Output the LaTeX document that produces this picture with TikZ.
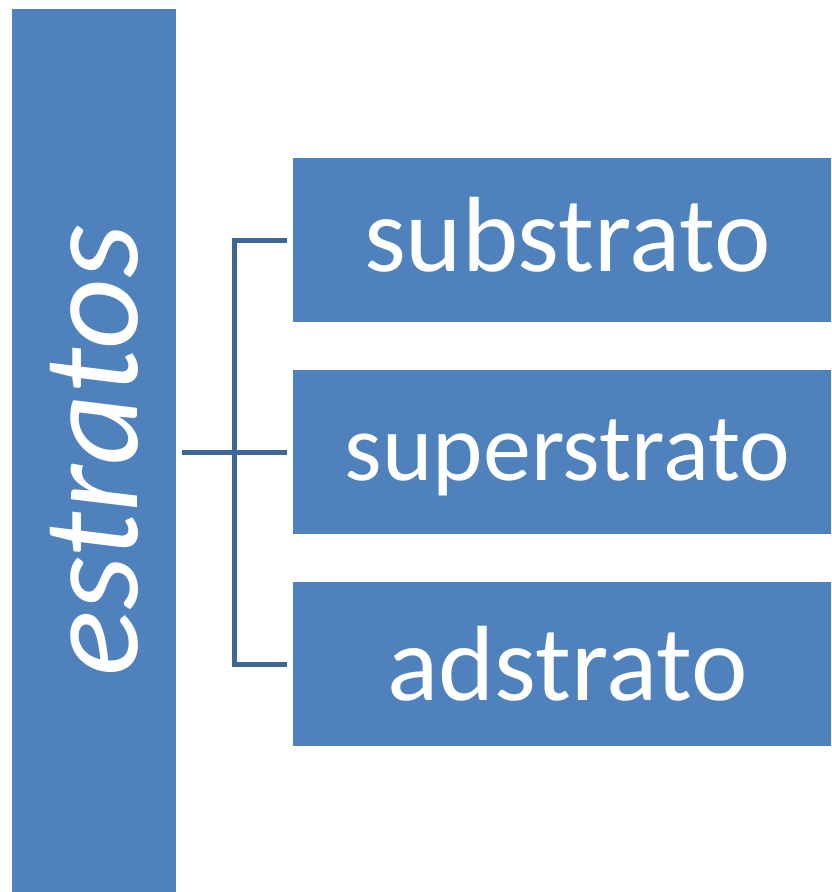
\documentclass[tikz,border=0pt]{standalone}
\usepackage{fontspec}
\setmainfont{Carlito}
\definecolor{boxblue}{HTML}{4F81BD}
\definecolor{linkblue}{HTML}{3E6697}
\begin{document}
\begin{tikzpicture}[x=1pt,y=-1pt,
  panel/.style={fill=boxblue,draw=none},
  label/.style={text=white,inner sep=0pt,anchor=base},
  link/.style={draw=linkblue,line width=5pt}]
\useasboundingbox (0,0) rectangle (831,892);
% side bar
\fill[panel] (12,9) rectangle (176,892);
\node[label,rotate=90,font=\itshape\fontsize{138}{150}\selectfont] (est) at (137,451) {estratos};
% three items
\fill[panel] (293,158) rectangle (831,322);
\fill[panel] (293,370) rectangle (831,534);
\fill[panel] (293,582) rectangle (831,746);
\node[label,font=\fontsize{107}{120}\selectfont] (sub) at (567.5,271) {substrato};
\node[label,font=\fontsize{96}{110}\selectfont] (sup) at (567.5,480) {superstrato};
\node[label,font=\fontsize{107}{120}\selectfont] (ad) at (567.5,700) {adstrato};
% bracket
\coordinate (root) at (182,452);
\coordinate (j1) at (234.5,240);
\coordinate (j3) at (234.5,664);
\coordinate (e1) at (287,240);
\coordinate (e2) at (287,452);
\coordinate (e3) at (287,664);
\draw[link] (root) -- (e2);
\draw[link] (e1) -- (j1) -- (j3) -- (e3);
\end{tikzpicture}
\end{document}
